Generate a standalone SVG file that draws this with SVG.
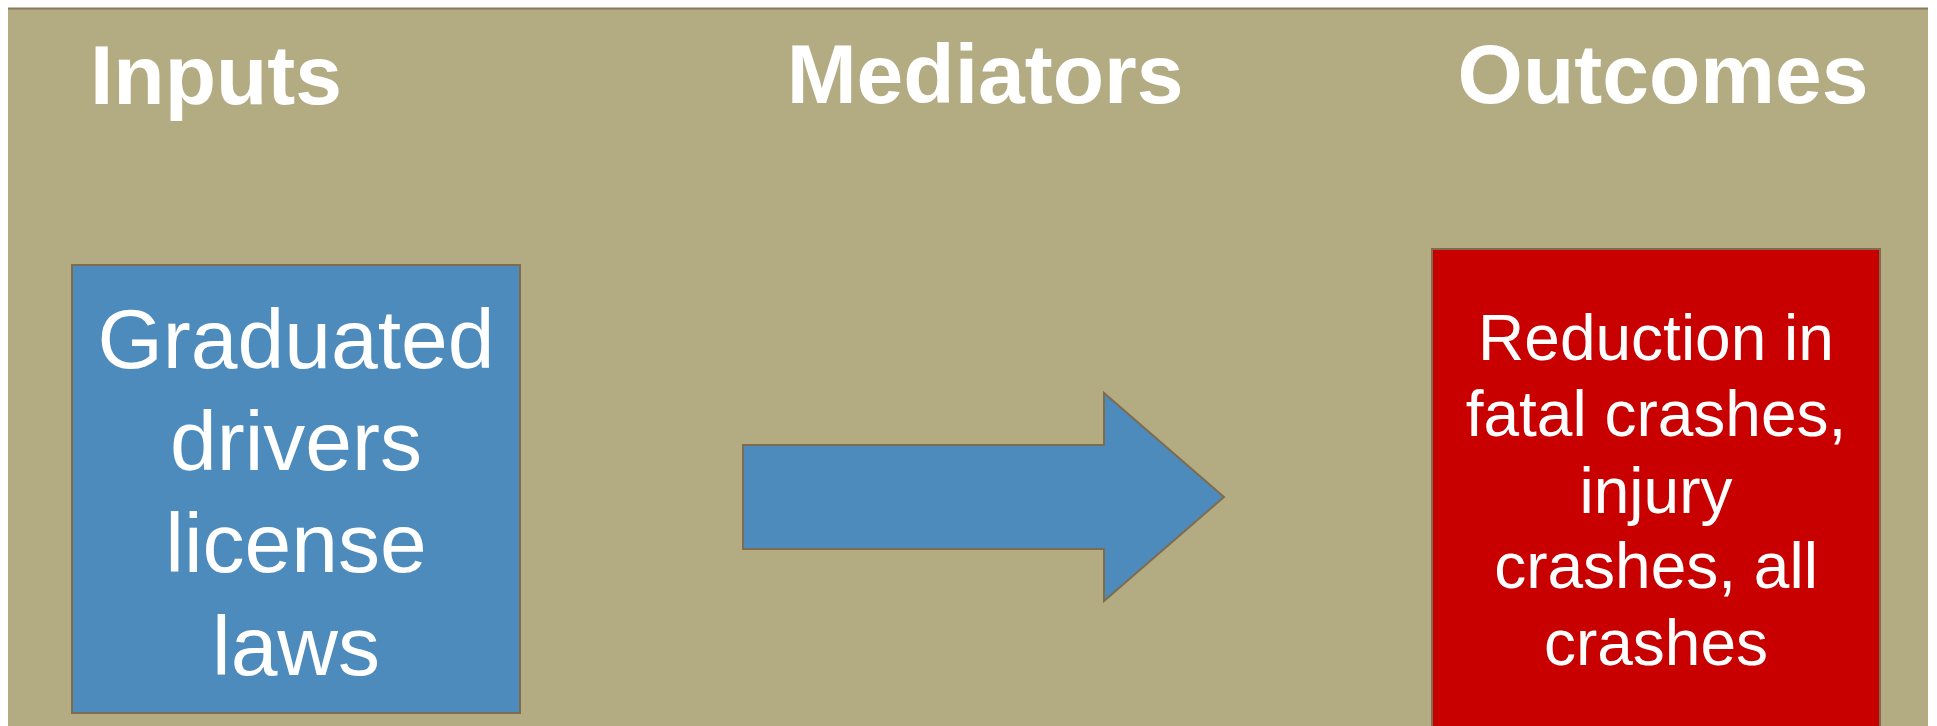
<svg xmlns="http://www.w3.org/2000/svg" width="1937" height="726" viewBox="0 0 1937 726">
<style>
.hdr{font-family:"Liberation Sans",Arial,sans-serif;font-weight:bold;font-size:84px;fill:#fff;text-anchor:middle}
.lbl{font-family:"Liberation Sans",Arial,sans-serif;fill:#fff;text-anchor:middle}
.box{stroke:#7f6c4f;stroke-width:2}
</style>
<rect x="0" y="0" width="1937" height="726" fill="#ffffff"/>
<rect x="8" y="8" width="1920" height="718" fill="#b3ab82"/>
<line x1="8" y1="8.5" x2="1928" y2="8.5" stroke="#8b7b5b" stroke-width="2"/>
<g id="headers">
<text class="hdr" x="216" y="104">Inputs</text>
<text class="hdr" x="985" y="103">Mediators</text>
<text class="hdr" x="1663" y="103">Outcomes</text>
</g>
<g id="node-inputs">
<rect class="box" x="72" y="265" width="448" height="448" fill="#4d8bbd"/>
<text class="lbl" font-size="84" x="296" y="368">Graduated</text>
<text class="lbl" font-size="84" x="296" y="470">drivers</text>
<text class="lbl" font-size="84" x="296" y="572">license</text>
<text class="lbl" font-size="84" x="296" y="675">laws</text>
</g>
<g id="connectors">
<polygon class="box" points="743,445 1104,445 1104,393 1224,497 1104,601 1104,549 743,549" fill="#4d8bbd"/>
</g>
<g id="node-outcomes">
<rect class="box" x="1432" y="249" width="448" height="490" fill="#c80000"/>
<text class="lbl" font-size="64" x="1656" y="360">Reduction in</text>
<text class="lbl" font-size="64" x="1656" y="436">fatal crashes,</text>
<text class="lbl" font-size="64" x="1656" y="513">injury</text>
<text class="lbl" font-size="64" x="1656" y="588">crashes, all</text>
<text class="lbl" font-size="64" x="1656" y="665">crashes</text>
</g>
</svg>
